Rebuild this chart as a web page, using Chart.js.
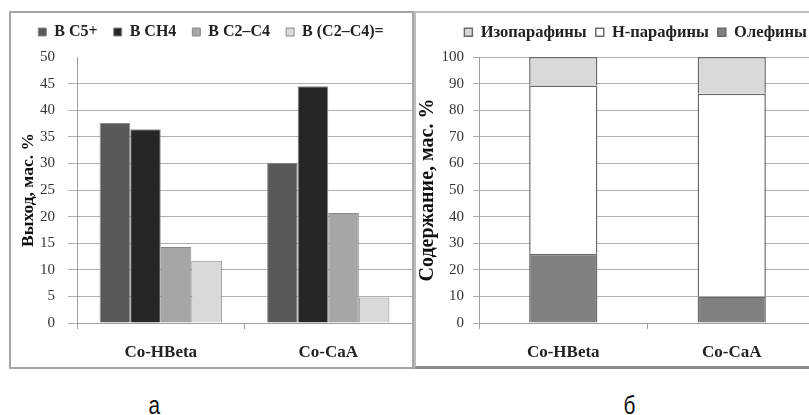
<!DOCTYPE html>
<html>
<head>
<meta charset="utf-8">
<script src="https://cdn.jsdelivr.net/npm/chart.js@4.4.1/dist/chart.umd.min.js"></script>
<style>
  html, body { margin: 0; padding: 0; background: #fff; overflow: hidden; }
  body { width: 809px; height: 415px; position: relative; }
  .panel { position: absolute; box-sizing: border-box; }
  #pa { left: 9px; top: 11px; width: 405px; height: 358px; border: 2px solid #a6a6a6; }
  #pb { left: 414px; top: 11px; width: 400px; height: 358px; border-top: 2px solid #bdbdbd; border-left: 2px solid #bdbdbd; border-bottom: 3px solid #8c8c8c; }
  .wrap { position: absolute; }
  #wa { left: 10px; top: 8px; width: 402px; height: 359px; }
  #wb { left: 414px; top: 12px; width: 402px; height: 356px; }
  .cap { position: absolute; font-family: 'Liberation Sans', Arial, sans-serif; font-size: 26px; color: #111; transform: scaleX(0.8); }
</style>
</head>
<body>
<div class="panel" id="pa"></div>
<div class="panel" id="pb"></div>
<div class="wrap" id="wa"><canvas id="chartA"></canvas></div>
<div class="wrap" id="wb"><canvas id="chartB"></canvas></div>
<div class="cap" style="left:147px; top:390px;">а</div>
<div class="cap" style="left:622px; top:390px;">б</div>
<script>
const catalysts = ['Co-HBeta', 'Co-CaA'];

// panel a: yields, wt.%
const yieldLabels = ['В С5+', 'В СН4', 'В С2–С4', 'В (С2–С4)='];
const yieldC5 = [37.6, 30.1];
const yieldCH4 = [36.4, 44.5];
const yieldC2C4 = [14.3, 20.7];
const yieldOlef = [11.7, 4.8];
const yieldColors = ['#595959', '#262626', '#a6a6a6', '#d9d9d9'];
const yieldTicks = [0, 5, 10, 15, 20, 25, 30, 35, 40, 45, 50];

// panel b: composition, wt.%
const compLabels = ['Олефины', 'Н-парафины', 'Изопарафины'];
const olefins = [26, 10];
const nParaffins = [63.3, 76.2];
const isoParaffins = [10.7, 13.8];
const compColors = ['#808080', '#ffffff', '#d9d9d9'];

const serif = "'Liberation Serif', 'DejaVu Serif', serif";
const f = (size, weight) => ({ family: serif, size: size, weight: weight || 'normal' });
Chart.defaults.font.family = serif;
Chart.defaults.color = '#222';
Chart.defaults.animation = false;

// extra gap between legend and plot
function legendGap(px) {
  return {
    id: 'legendGap',
    beforeLayout(chart) {
      const lg = chart.legend;
      if (lg && !lg._gapped) {
        const fit = lg.fit.bind(lg);
        lg.fit = function () { fit(); this.height += px; };
        lg._gapped = true;
      }
    }
  };
}

new Chart(document.getElementById('chartA'), {
  type: 'bar',
  data: {
    labels: catalysts,
    datasets: [yieldC5, yieldCH4, yieldC2C4, yieldOlef].map((d, i) => ({
      label: yieldLabels[i],
      data: d,
      backgroundColor: yieldColors[i],
      borderColor: '#8a8a8a',
      borderWidth: 1,
      categoryPercentage: 0.73,
      barPercentage: 1.0
    }))
  },
  options: {
    responsive: true,
    maintainAspectRatio: false,
    layout: { padding: 0 },
    plugins: {
      legend: {
        position: 'top',
        labels: { boxWidth: 8, boxHeight: 8, padding: 16, font: f(16, 'bold'), color: '#222' }
      },
      tooltip: { enabled: false }
    },
    scales: {
      x: {
        grid: { drawOnChartArea: false, tickLength: 6, color: '#a0a0a0' },
        border: { color: '#a0a0a0', width: 1 },
        ticks: { padding: 13, font: f(17, 'bold'), color: '#222' },
        afterFit: s => { s.height = 44; }
      },
      y: {
        min: 0, max: 50,
        afterBuildTicks: s => { s.ticks = yieldTicks.map(v => ({ value: v })); },
        grid: { tickLength: 9, color: c => c.tick && c.tick.value === 50 ? 'rgba(0,0,0,0)' : '#b0b0b0' },
        border: { color: '#a0a0a0', width: 1 },
        ticks: { padding: 13, font: f(15), color: '#333' },
        title: { display: true, text: 'Выход, мас. %', font: f(17.5, 'bold'), color: '#111', padding: { top: 8, bottom: 0 } },
        afterFit: s => { s.width = 67; }
      }
    }
  },
  plugins: [legendGap(7)]
});

new Chart(document.getElementById('chartB'), {
  type: 'bar',
  data: {
    labels: catalysts,
    datasets: [olefins, nParaffins, isoParaffins].map((d, i) => ({
      label: compLabels[i],
      data: d,
      backgroundColor: compColors[i],
      borderColor: '#6a6a6a',
      borderWidth: 1.5,
      categoryPercentage: 1.0,
      barPercentage: 0.405
    }))
  },
  options: {
    responsive: true,
    maintainAspectRatio: false,
    layout: { padding: { top: 3, left: 0, right: 0, bottom: 0 } },
    plugins: {
      legend: {
        position: 'top',
        align: 'end',
        reverse: true,
        labels: { boxWidth: 8, boxHeight: 8, padding: 9, font: f(16.5, 'bold'), color: '#222' }
      },
      tooltip: { enabled: false }
    },
    scales: {
      x: {
        stacked: true,
        grid: { drawOnChartArea: false, tickLength: 6, color: '#a0a0a0' },
        border: { color: '#a0a0a0', width: 1 },
        ticks: { padding: 13, font: f(17, 'bold'), color: '#222' },
        afterFit: s => { s.height = 45; }
      },
      y: {
        stacked: true,
        min: 0, max: 100,
        ticks: { stepSize: 10, padding: 9, font: f(15), color: '#333' },
        grid: { tickLength: 6, color: '#b0b0b0' },
        border: { color: '#a0a0a0', width: 1 },
        title: { display: true, text: 'Содержание, мас. %', font: f(20, 'bold'), color: '#111', padding: { top: 2, bottom: 0 } },
        afterFit: s => { s.width = 65; }
      }
    }
  },
  plugins: [legendGap(6.5)]
});
</script>
</body>
</html>
